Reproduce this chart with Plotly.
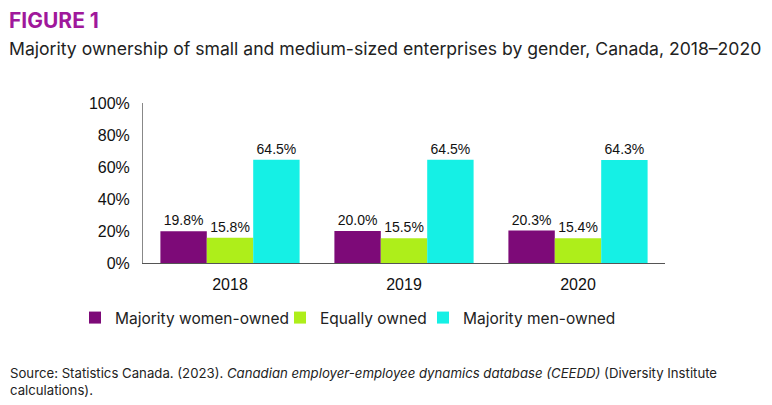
import plotly.graph_objects as go

years = ["2018", "2019", "2020"]
women = [19.8, 20.0, 20.3]
equal = [15.8, 15.5, 15.4]
men = [64.5, 64.5, 64.3]
series_names = ["Majority women-owned", "Equally owned", "Majority men-owned"]
colors = ["#7D0A78", "#AEEE1A", "#15F0E5"]
y_ticks = [0, 20, 40, 60, 80, 100]
y_tick_labels = ["0%", "20%", "40%", "60%", "80%", "100%"]

W, H = 772, 405
L, R, T, B = 143, 107, 103, 142
pw = W - L - R
ph = H - T - B

fig = go.Figure()
legend_ids = ["legend", "legend2", "legend3"]
for vals, name, col, lg in zip([women, equal, men], series_names, colors, legend_ids):
    fig.add_trace(go.Bar(
        x=years, y=vals, name=name, marker=dict(color=col, line=dict(width=0)),
        text=[f"{v:.1f}%" for v in vals], textposition="outside",
        textfont=dict(family="Liberation Sans, Arial, sans-serif", size=14, color="#111111"),
        cliponaxis=False, legend=lg, hoverinfo="skip",
    ))

def px_x(p):
    return (p - L) / pw

def px_y(p):
    return 1 - (p - T) / ph

legend_font = dict(family="Inter, Noto Sans, sans-serif", size=15.5, color="#222222")
leg_common = dict(orientation="h", xanchor="left", yanchor="middle", font=legend_font,
                  bgcolor="rgba(0,0,0,0)", itemclick=False, itemdoubleclick=False)
leg_y = px_y(318)

fig.update_layout(
    width=W, height=H,
    margin=dict(l=L, r=R, t=T, b=B, pad=0, autoexpand=False),
    paper_bgcolor="white", plot_bgcolor="white",
    barmode="group", bargap=0.2, bargroupgap=0,
    showlegend=True,
    legend=dict(x=px_x(75), y=leg_y, **leg_common),
    legend2=dict(x=px_x(280), y=leg_y, **leg_common),
    legend3=dict(x=px_x(423), y=leg_y, **leg_common),
    xaxis=dict(showline=True, linecolor="#555555", linewidth=1, ticks="",
               tickfont=dict(family="Liberation Sans, Arial, sans-serif", size=16, color="#111111"),
               ticklabelstandoff=7, showgrid=False, fixedrange=True),
    yaxis=dict(range=[0, 100], tickvals=y_ticks, ticktext=y_tick_labels,
               showline=True, linecolor="#888888", linewidth=1, ticks="",
               showgrid=False, zeroline=False,
               tickfont=dict(family="Liberation Sans, Arial, sans-serif", size=16, color="#111111"),
               ticklabelstandoff=9, fixedrange=True),
)

fig.add_annotation(text="<b>FIGURE 1</b>", xref="paper", yref="paper",
                   x=px_x(7), y=px_y(20), xanchor="left", yanchor="middle", showarrow=False,
                   font=dict(family="Inter, Noto Sans, sans-serif", size=21, color="#A0189B"))
fig.add_annotation(text="Majority ownership of small and medium-sized enterprises by gender, Canada, 2018–2020",
                   xref="paper", yref="paper",
                   x=px_x(7), y=px_y(48), xanchor="left", yanchor="middle", showarrow=False,
                   font=dict(family="Inter, Noto Sans, sans-serif", size=17.6, color="#222222"))
fig.add_annotation(text="Source: Statistics Canada. (2023). <i>Canadian employer-employee dynamics database (CEEDD)</i> (Diversity Institute<br>calculations).",
                   xref="paper", yref="paper", align="left",
                   x=px_x(8), y=px_y(381), xanchor="left", yanchor="middle", showarrow=False,
                   font=dict(family="Inter, Noto Sans, sans-serif", size=13.2, color="#222222"))

fig.write_html("out.html", config={"displayModeBar": False},
               post_script="document.body.style.margin='0';document.body.style.overflow='hidden';")
